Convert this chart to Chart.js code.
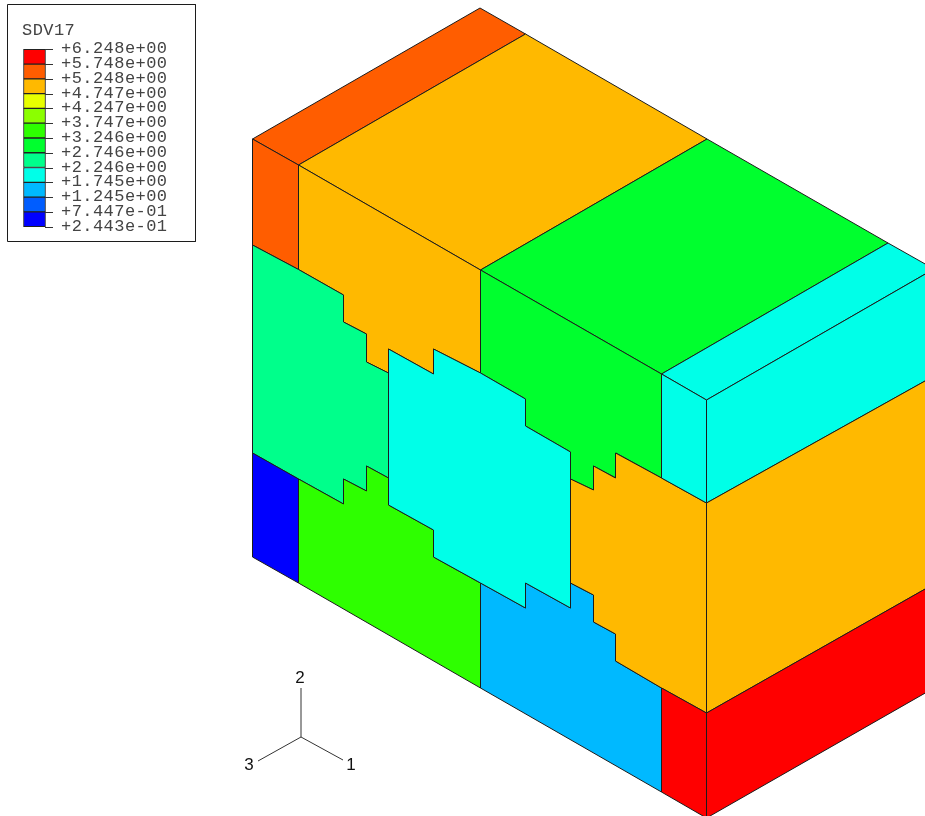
<!DOCTYPE html>
<html>
<head>
<meta charset="utf-8">
<title>SDV17</title>
<script src="https://cdn.jsdelivr.net/npm/chart.js@4/dist/chart.umd.min.js"></script>
<style>
  html, body { margin: 0; padding: 0; background: #fff; }
  canvas { display: block; }
</style>
</head>
<body>
<canvas id="sdvChart" width="925" height="816"></canvas>
<script>
// contour legend, top level first
const legendTitle = 'SDV17';
const legendLevels = [6.248, 5.748, 5.248, 4.747, 4.247, 3.747, 3.246, 2.746, 2.246, 1.745, 1.245, 0.7447, 0.2443];
const legendLabels = ['+6.248e+00', '+5.748e+00', '+5.248e+00', '+4.747e+00', '+4.247e+00', '+3.747e+00', '+3.246e+00',
    '+2.746e+00', '+2.246e+00', '+1.745e+00', '+1.245e+00', '+7.447e-01', '+2.443e-01'];
const legendColors = ['#ff0000', '#ff5d00', '#ffb900', '#e8ff00', '#8bff00', '#2eff00', '#00ff2e', '#00ff8b', '#00ffe8', '#00b9ff', '#005dff', '#0000ff'];

// top face as [x, y]
const topBack = [[252.5, 139], [480, 8], [525.5, 34], [298.5, 165]];
const topOrange = [[298.5, 165], [525.5, 34], [707, 139], [480.5, 270]];
const topGreen = [[480.5, 270], [707, 139], [888, 243], [661.5, 374]];
const topCyan = [[661.5, 374], [888, 243], [934, 269], [706.5, 400]];

// left face
const leftCorner = [[252.5, 139], [298.5, 165], [298.5, 269.5], [252.5, 245]];
const leftOrange = [[298.5, 165], [480.5, 270], [480.5, 373], [433.5, 349], [433.5, 374], [388.5, 349], [388.5, 373],
    [366.5, 362], [366.5, 334], [343.5, 322], [343.5, 295], [298.5, 269.5]];
const leftTeal = [[252.5, 245], [298.5, 269.5], [343.5, 295], [343.5, 322], [366.5, 334], [366.5, 362], [388.5, 373],
    [388.5, 478], [366.5, 466], [366.5, 491], [343.5, 479], [343.5, 504], [298.5, 479], [252.5, 453]];
const leftBlue = [[252.5, 453], [298.5, 479], [298.5, 583], [252.5, 557]];
const leftLime = [[298.5, 479], [343.5, 504], [343.5, 479], [366.5, 491], [366.5, 466], [388.5, 478], [388.5, 505],
    [433.5, 530], [433.5, 557], [480.5, 583], [480.5, 688], [298.5, 583]];
const leftGreen = [[480.5, 270], [661.5, 374], [661.5, 478], [616, 453], [616, 478], [593.5, 466], [593.5, 490],
    [570.5, 479], [570.5, 452], [525.5, 426], [525.5, 399], [480.5, 373]];
const leftCenter = [[388.5, 349], [433.5, 374], [433.5, 349], [480.5, 373], [525.5, 399], [525.5, 426], [570.5, 452],
    [570.5, 608], [525.5, 583], [525.5, 608], [480.5, 583], [433.5, 557], [433.5, 530], [388.5, 505]];
const leftSky = [[480.5, 583], [525.5, 608], [525.5, 583], [570.5, 608], [570.5, 583], [593.5, 595], [593.5, 622],
    [615.5, 634], [615.5, 661], [661.5, 688], [661.5, 792], [480.5, 688]];
const leftOrangeLow = [[570.5, 479], [593.5, 490], [593.5, 466], [615.5, 478], [615.5, 453], [661.5, 478], [706.5, 503],
    [706.5, 713], [661.5, 688], [615.5, 661], [615.5, 634], [593.5, 622], [593.5, 595], [570.5, 583]];
const leftCyan = [[661.5, 374], [706.5, 400], [706.5, 503], [661.5, 478]];
const leftRed = [[661.5, 688], [706.5, 713], [706.5, 818], [661.5, 792]];

// right face, runs off the edge of the picture
const rightCyan = [[706.5, 400], [934, 269], [934, 376], [706.5, 503]];
const rightOrange = [[706.5, 503], [934, 376], [934, 584], [706.5, 713]];
const rightRed = [[706.5, 713], [934, 584], [934, 688], [706.5, 818]];

// triad and legend frame
const triadCenter = [301, 737];
const triadEnds = [[301, 688], [343, 760], [258, 761]];
const triadLabels = ['2', '1', '3'];
const triadLabelSpots = [[300, 678], [351, 765], [249, 765]];
const legendFrame = [[7.5, 4.5], [195.5, 4.5], [195.5, 241.5], [7.5, 241.5]];

function polygon(points, color) {
    const pts = points.concat([points[0]]).map(function(p) { return { x: p[0], y: p[1] }; });
    return {
        type: 'scatter',
        data: pts,
        showLine: true,
        fill: 'shape',
        backgroundColor: color,
        borderColor: '#1c1c1c',
        borderWidth: 1,
        pointRadius: 0,
        tension: 0
    };
}

function segment(a, b) {
    return {
        type: 'scatter',
        data: [{ x: a[0], y: a[1] }, { x: b[0], y: b[1] }],
        showLine: true,
        fill: false,
        borderColor: '#333',
        borderWidth: 1,
        pointRadius: 0
    };
}

// floating bars between the contour levels make the colour bar
const colorBar = {
    type: 'bar',
    xAxisID: 'x',
    yAxisID: 'yLegend',
    data: legendColors.map(function(c, i) {
        return { x: 34.5, y: [legendLevels[i + 1], legendLevels[i]] };
    }),
    backgroundColor: legendColors,
    borderColor: '#222',
    borderWidth: 1,
    borderSkipped: false,
    barThickness: 22,
    grouped: false
};

// legend ticks and all the texts go through the same scales
const annotate = {
    id: 'annotate',
    afterDatasetsDraw: function(chart) {
        const c = chart.ctx;
        const x = chart.scales.x;
        const y = chart.scales.y;
        const yLegend = chart.scales.yLegend;
        c.save();
        c.strokeStyle = '#333';
        c.lineWidth = 1;
        c.fillStyle = '#444';
        c.font = '17px "Liberation Mono"';
        c.letterSpacing = '0.45px';
        c.textBaseline = 'middle';
        c.fillText(legendTitle, x.getPixelForValue(22), y.getPixelForValue(30));
        legendLevels.forEach(function(level, i) {
            const py = Math.round(yLegend.getPixelForValue(level)) + 0.5;
            c.beginPath();
            c.moveTo(x.getPixelForValue(45), py);
            c.lineTo(x.getPixelForValue(53), py);
            c.stroke();
            c.fillText(legendLabels[i], x.getPixelForValue(61), py - 1);
        });
        c.letterSpacing = '0px';
        c.fillStyle = '#111';
        c.font = '17px "Liberation Sans"';
        c.textAlign = 'center';
        triadLabels.forEach(function(t, i) {
            c.fillText(t, x.getPixelForValue(triadLabelSpots[i][0]), y.getPixelForValue(triadLabelSpots[i][1]));
        });
        c.restore();
    }
};

document.addEventListener('DOMContentLoaded', function() {
    const ctx = document.getElementById('sdvChart').getContext('2d');

    new Chart(ctx, {
        data: {
            datasets: [
                colorBar,
                polygon(rightRed, '#ff0000'),
                polygon(rightOrange, '#ffb900'),
                polygon(rightCyan, '#00ffe8'),
                polygon(leftRed, '#ff0000'),
                polygon(leftCyan, '#00ffe8'),
                polygon(leftCenter, '#00ffe8'),
                polygon(leftOrangeLow, '#ffb900'),
                polygon(leftSky, '#00b9ff'),
                polygon(leftGreen, '#00ff2e'),
                polygon(leftLime, '#2eff00'),
                polygon(leftBlue, '#0000ff'),
                polygon(leftTeal, '#00ff8b'),
                polygon(leftOrange, '#ffb900'),
                polygon(leftCorner, '#ff5d00'),
                polygon(topCyan, '#00ffe8'),
                polygon(topGreen, '#00ff2e'),
                polygon(topOrange, '#ffb900'),
                polygon(topBack, '#ff5d00'),
                segment(triadCenter, triadEnds[0]),
                segment(triadCenter, triadEnds[1]),
                segment(triadCenter, triadEnds[2]),
                polygon(legendFrame, '#ffffff')
            ]
        },
        options: {
            responsive: false,
            animation: false,
            layout: { padding: 0 },
            plugins: {
                legend: { display: false },
                tooltip: { enabled: false }
            },
            scales: {
                x: { type: 'linear', min: 0, max: 925, offset: false, display: false },
                y: { type: 'linear', min: 0, max: 816, reverse: true, display: false },
                // 6.248 lands at the top of the colour bar, 0.2443 at its foot
                yLegend: { type: 'linear', min: -19.70, max: 7.916, display: false }
            }
        },
        plugins: [annotate]
    });
});
</script>
</body>
</html>
